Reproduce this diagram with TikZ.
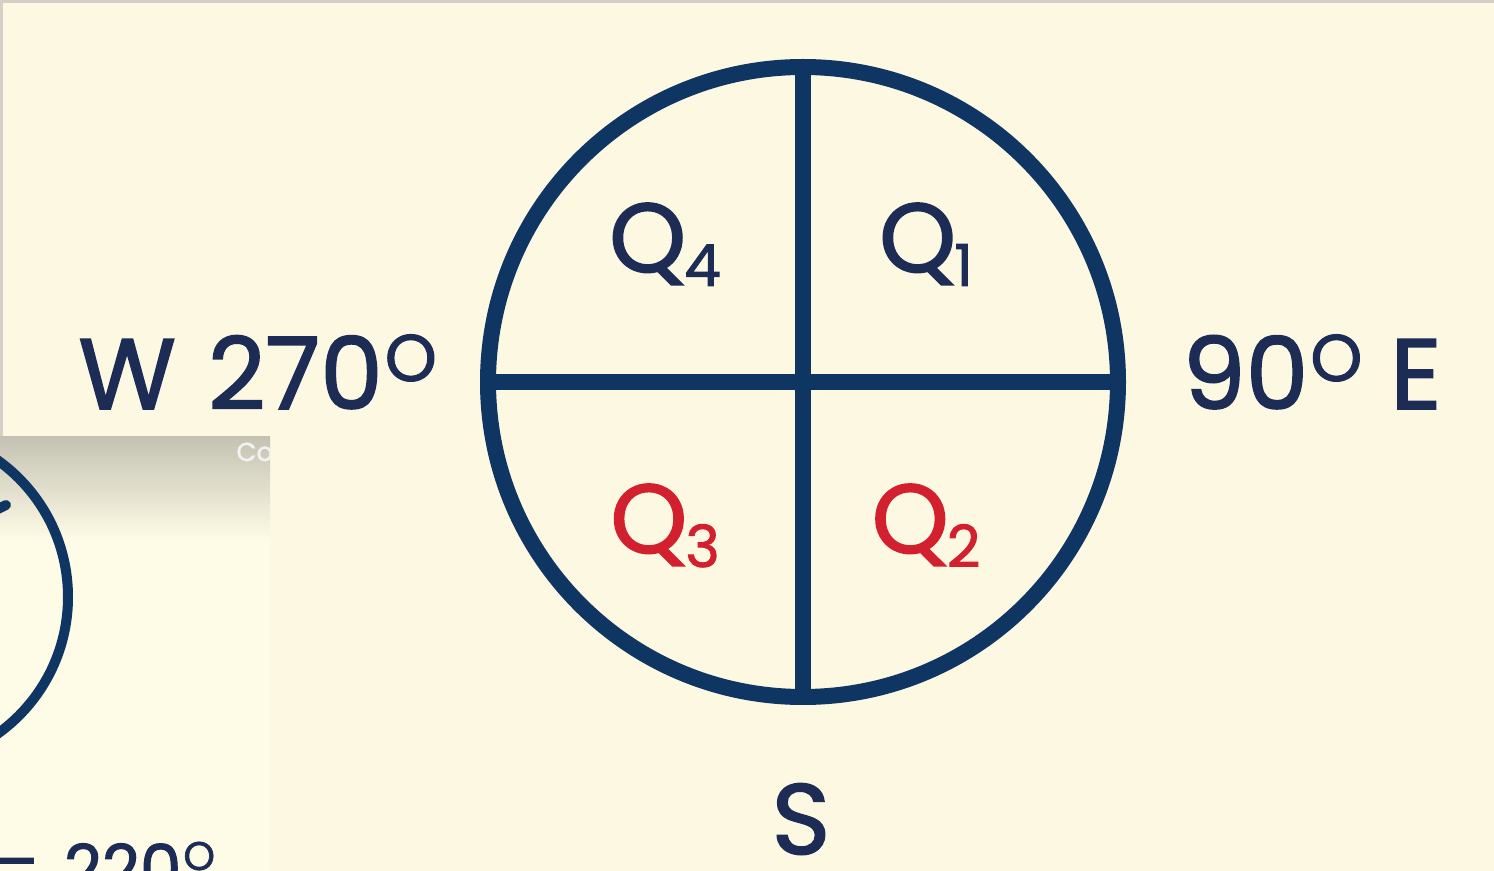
\documentclass[tikz,border=0pt]{standalone}
\usepackage{fontspec}
\setmainfont{Poppins}[FakeBold=1.6]
\definecolor{bgcream}{HTML}{FDF8E2}
\definecolor{navyline}{HTML}{0F3563}
\definecolor{navytext}{HTML}{1D2C55}
\definecolor{qred}{HTML}{D3202E}
\definecolor{frame}{HTML}{D4D0C8}
\definecolor{panelfill}{HTML}{FEFBE6}
\definecolor{panelgrey}{HTML}{C4C2B2}
\newcommand{\degO}[1]{\raisebox{#1}{\fontsize{33}{33}\selectfont O}}
\tikzset{
  bigtext/.style={font=\fontsize{50}{50}\selectfont, text=navytext, inner sep=0pt, anchor=base},
  qlabel/.style={font=\fontsize{49}{49}\selectfont, inner sep=0pt, anchor=base},
  mainline/.style={draw=navyline, line width=8pt},
}
\begin{document}
\begin{tikzpicture}[x=0.5pt,y=-0.5pt]
\useasboundingbox (0,0) rectangle (1494,871);
% background with thin frame
\fill[frame] (0,0) rectangle (1494,871);
\fill[bgcream] (3,3) rectangle (1494,871);
% main compass
\coordinate (c) at (803,382);
\coordinate (n) at (803,67);
\coordinate (s) at (803,697);
\coordinate (w) at (488,382);
\coordinate (e) at (1118,382);
\draw[mainline] (n) -- (s);
\draw[mainline] (w) -- (e);
\draw[mainline] (c) circle[radius=315];
% quadrant labels
\node[qlabel, text=navytext] (q4) at (665,272) {Q\kern-1pt\raisebox{-7pt}{\fontsize{29}{29}\selectfont 4}};
\node[qlabel, text=navytext] (q1) at (926,272) {Q\kern-1pt\raisebox{-7pt}{\fontsize{29}{29}\selectfont 1}};
\node[qlabel, text=qred] (q3) at (665,553) {Q\kern-1pt\raisebox{-7pt}{\fontsize{29}{29}\selectfont 3}};
\node[qlabel, text=qred] (q2) at (926,553) {Q\kern-1pt\raisebox{-7pt}{\fontsize{29}{29}\selectfont 2}};
% direction labels
\node[bigtext, anchor=base west] (west) at (78,409) {W\hspace{16pt}270\kern1pt\degO{14pt}};
\node[bigtext, anchor=base east] (east) at (1442,409) {90\kern1pt\degO{14pt}\hspace{14pt}E};
\node[bigtext] (south) at (801,854) {S};
% inset panel (overlay)
\begin{scope}
\clip (0,437) rectangle (270,871);
\fill[panelfill] (0,437) rectangle (270,871);
\shade[top color=panelgrey, bottom color=panelfill] (0,437) rectangle (270,540);
\coordinate (ic) at (-100,597);
\draw[draw=navyline, line width=5pt] (ic) circle[radius=168];
\coordinate (tk1) at (-4,510);
\coordinate (tk2) at (6,505);
\draw[draw=navyline, line width=5pt, line cap=round] (tk1) -- (tk2);
\node[font=\fontsize{13}{13}\selectfont, text=white!90!gray, anchor=base west, inner sep=0pt] (co) at (236,461) {Co};
\node[font=\fontsize{33}{33}\selectfont, text=navytext, anchor=base west, inner sep=0pt] (eq) at (-8,892) {=\hspace{12pt}220\kern1pt\raisebox{11pt}{\fontsize{20}{20}\selectfont O}};
\end{scope}
\end{tikzpicture}
\end{document}
